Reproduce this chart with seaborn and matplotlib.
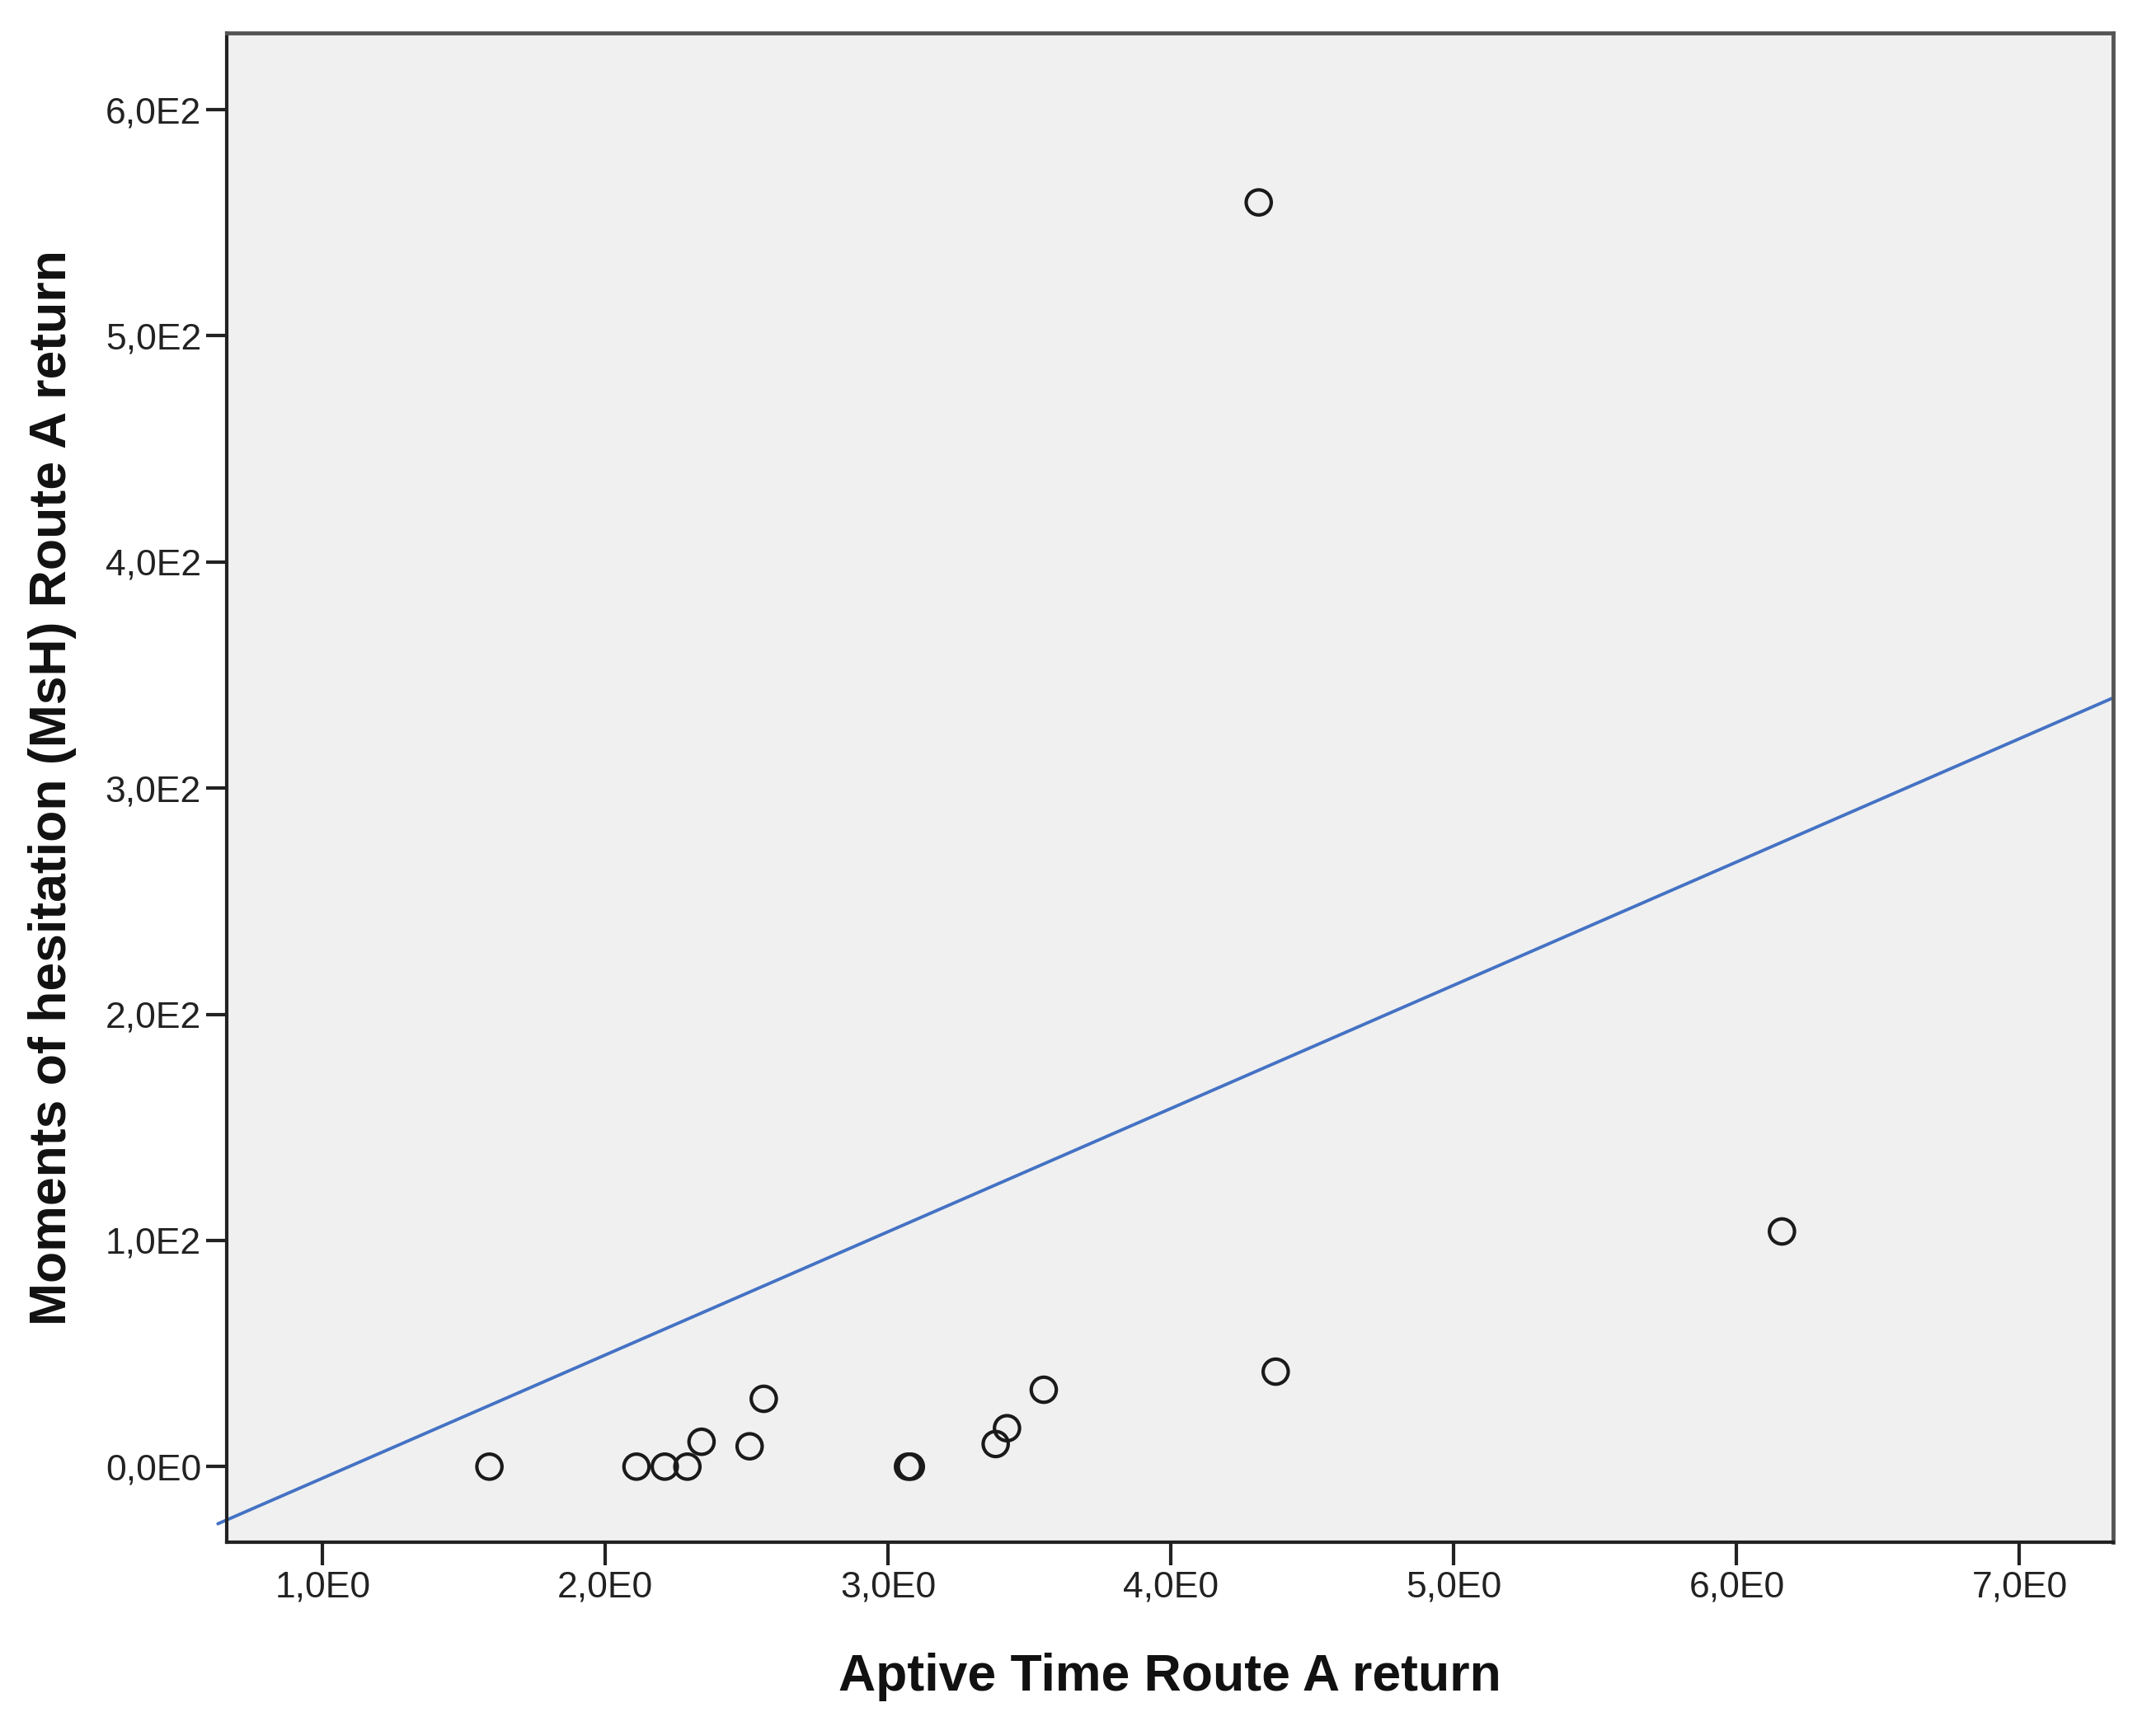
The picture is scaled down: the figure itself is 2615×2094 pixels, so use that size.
import numpy as np
import pandas as pd
import matplotlib
matplotlib.use('Agg')
import matplotlib.pyplot as plt
import seaborn as sns

# values
aptive_time = [1.59, 2.11, 2.21, 2.29, 2.34, 2.51, 2.56, 3.07, 3.08, 3.38, 3.42, 3.55, 4.31, 4.37, 6.16]
msh = [0, 0, 0, 0, 11, 9, 30, 0, 0, 10, 17, 34, 559, 42, 104]

# fit line as drawn in the reference
fit_slope = 54.5
fit_intercept = -59.6

x_ticks = [1, 2, 3, 4, 5, 6, 7]
x_tick_labels = ['1,0E0', '2,0E0', '3,0E0', '4,0E0', '5,0E0', '6,0E0', '7,0E0']
y_ticks = [0, 100, 200, 300, 400, 500, 600]
y_tick_labels = ['0,0E0', '1,0E2', '2,0E2', '3,0E2', '4,0E2', '5,0E2', '6,0E2']

xlim = (0.66, 7.33)
ylim = (-33.4, 634)

df = pd.DataFrame({'Aptive Time Route A return': aptive_time,
                   'Moments of hesitation (MsH) Route A return': msh})

sns.set_style('white')
plt.rcParams['font.family'] = ['Liberation Sans', 'DejaVu Sans']

fig = plt.figure(figsize=(26.15, 20.94), dpi=100)
ax = fig.add_axes([0.105, 0.1065, 0.875, 0.8745])
ax.set_facecolor('#F0F0F0')

sns.scatterplot(data=df, x='Aptive Time Route A return',
                y='Moments of hesitation (MsH) Route A return',
                marker='o', s=480, facecolor='none', edgecolor='#1a1a1a',
                linewidth=3, ax=ax, zorder=3)

line_x = np.array([xlim[0] - 0.03, xlim[1]])
sns.lineplot(x=line_x, y=fit_slope * line_x + fit_intercept, color='#4472C4',
             linewidth=2.8, ax=ax, zorder=2, clip_on=False)

ax.set_xlim(xlim)
ax.set_ylim(ylim)
ax.set_xticks(x_ticks)
ax.set_xticklabels(x_tick_labels)
ax.set_yticks(y_ticks)
ax.set_yticklabels(y_tick_labels)
ax.tick_params(axis='both', direction='out', labelsize=32, color='#222222',
               labelcolor='#222222', width=3, bottom=True, left=True)
ax.tick_params(axis='x', length=20, pad=5)
ax.tick_params(axis='y', length=18, pad=4)

for side in ['left', 'bottom']:
    ax.spines[side].set_color('#222222')
    ax.spines[side].set_linewidth(3)
for side in ['top', 'right']:
    ax.spines[side].set_color('#555555')
    ax.spines[side].set_linewidth(3.5)

ax.set_xlabel('Aptive Time Route A return', fontsize=45, fontweight='bold',
              color='#111111', labelpad=42)
ax.set_ylabel('Moments of hesitation (MsH) Route A return', fontsize=45,
              fontweight='bold', color='#111111', labelpad=25)

fig.savefig('out.png', dpi=100, facecolor='white')
